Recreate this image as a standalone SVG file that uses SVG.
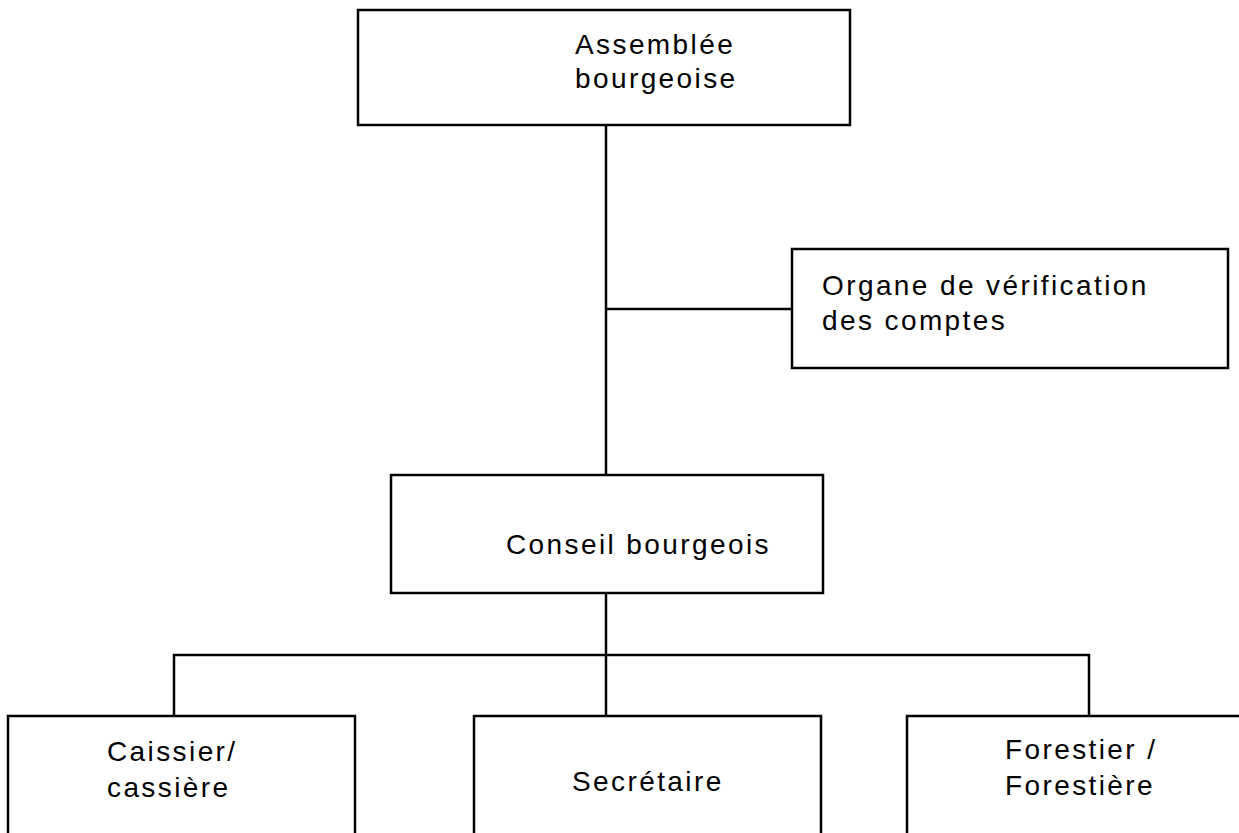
<svg xmlns="http://www.w3.org/2000/svg" width="1239" height="833" viewBox="0 0 1239 833">
<style>
.box{fill:#fff;stroke:#000;stroke-width:2.5}
.ln{fill:none;stroke:#000;stroke-width:2.5}
text{font-family:"Liberation Sans",Arial,sans-serif;font-size:28px;letter-spacing:2.4px;fill:#000}
</style>
<rect width="1239" height="833" fill="#fff"/>
<g id="connectors">
<line class="ln" x1="606" y1="125" x2="606" y2="475"/>
<line class="ln" x1="606" y1="309" x2="792" y2="309"/>
<line class="ln" x1="606" y1="593" x2="606" y2="655"/>
<polyline class="ln" points="174,716 174,655 1089,655 1089,716"/>
<line class="ln" x1="606" y1="655" x2="606" y2="716"/>
</g>
<g id="assemblee">
<rect class="box" x="358" y="10" width="492" height="115"/>
<text x="575" y="54">Assemblée</text>
<text x="575" y="88">bourgeoise</text>
</g>
<g id="organe">
<rect class="box" x="792" y="249" width="436" height="119"/>
<text x="822" y="295">Organe de vérification</text>
<text x="822" y="330">des comptes</text>
</g>
<g id="conseil">
<rect class="box" x="391" y="475" width="432" height="118"/>
<text x="506" y="554">Conseil bourgeois</text>
</g>
<g id="caissier">
<rect class="box" x="8" y="716" width="347" height="140"/>
<text x="107" y="761">Caissier/</text>
<text x="107" y="797">cassière</text>
</g>
<g id="secretaire">
<rect class="box" x="474" y="716" width="347" height="140"/>
<text x="572" y="791">Secrétaire</text>
</g>
<g id="forestier">
<rect class="box" x="907" y="716" width="347" height="140"/>
<text x="1005" y="759">Forestier /</text>
<text x="1005" y="795">Forestière</text>
</g>
</svg>
